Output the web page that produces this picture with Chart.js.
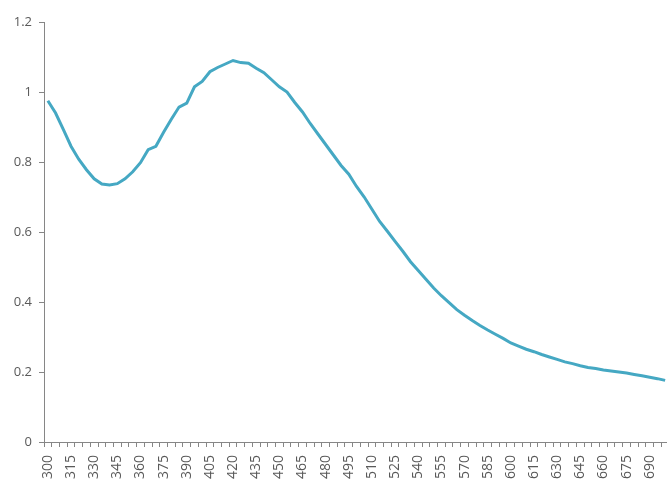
<!DOCTYPE html>
<html>
<head>
<meta charset="utf-8">
<title>Absorption spectrum</title>
<script src="https://cdn.jsdelivr.net/npm/chart.js@4/dist/chart.umd.min.js"></script>
<style>
  html, body { margin: 0; padding: 0; overflow: hidden; background: #ffffff; }
  #wrap { width: 669px; height: 480px; position: relative; }
</style>
</head>
<body>
<div id="wrap"><canvas id="chart"></canvas></div>
<script>
// Wavelength (nm), one category every 5 nm
const wavelengths = [
  300, 305, 310, 315, 320, 325, 330, 335, 340, 345,
  350, 355, 360, 365, 370, 375, 380, 385, 390, 395,
  400, 405, 410, 415, 420, 425, 430, 435, 440, 445,
  450, 455, 460, 465, 470, 475, 480, 485, 490, 495,
  500, 505, 510, 515, 520, 525, 530, 535, 540, 545,
  550, 555, 560, 565, 570, 575, 580, 585, 590, 595,
  600, 605, 610, 615, 620, 625, 630, 635, 640, 645,
  650, 655, 660, 665, 670, 675, 680, 685, 690, 695,
  700
];

// Measured absorbance at each wavelength
const absorbance = [
  0.975, 0.940, 0.893, 0.845, 0.808, 0.778, 0.752, 0.737, 0.734, 0.738,
  0.752, 0.772, 0.798, 0.835, 0.845, 0.885, 0.922, 0.957, 0.968, 1.015,
  1.030, 1.058, 1.070, 1.080, 1.090, 1.084, 1.082, 1.068, 1.055, 1.035,
  1.015, 1.000, 0.970, 0.943, 0.910, 0.880, 0.850, 0.820, 0.790, 0.765,
  0.730, 0.700, 0.665, 0.630, 0.602, 0.573, 0.545, 0.515, 0.490, 0.465,
  0.440, 0.418, 0.398, 0.378, 0.362, 0.347, 0.333, 0.320, 0.308, 0.296,
  0.283, 0.274, 0.265, 0.258, 0.250, 0.243, 0.236, 0.229, 0.224, 0.218,
  0.213, 0.210, 0.206, 0.203, 0.200, 0.197, 0.193, 0.189, 0.185, 0.181,
  0.176
];

// Every third wavelength gets a printed label
const labelEvery = 3;

// Value axis range
const yMin = 0;
const yMax = 1.2;
const yStep = 0.2;

const axisGrey = '#868686';
const textGrey = '#595959';
const lineColour = '#45a8c3';

new Chart(document.getElementById('chart'), {
  type: 'line',
  data: {
    labels: wavelengths,
    datasets: [{
      data: absorbance,
      borderColor: lineColour,
      borderWidth: 3,
      pointRadius: 0,
      tension: 0,
      fill: false
    }]
  },
  options: {
    responsive: true,
    maintainAspectRatio: false,
    animation: false,
    devicePixelRatio: 1,
    layout: { padding: { top: 22, left: 0, right: 0, bottom: 0 } },
    plugins: {
      legend: { display: false },
      tooltip: { enabled: false }
    },
    scales: {
      x: {
        type: 'category',
        offset: true,
        grid: {
          display: true,
          drawOnChartArea: false,
          drawTicks: true,
          tickLength: 5,
          color: axisGrey,
          offset: true
        },
        border: { display: true, color: axisGrey, width: 1 },
        ticks: {
          autoSkip: false,
          minRotation: 90,
          maxRotation: 90,
          padding: 8,
          color: textGrey,
          font: { family: '"Open Sans", sans-serif', size: 14 },
          callback: function (value, index) {
            return index % labelEvery === 0 ? String(wavelengths[index]) : '';
          }
        },
        afterFit: function (axis) {
          axis.height = 38;
          axis.paddingLeft = 0;
          axis.paddingRight = 0;
        }
      },
      y: {
        min: yMin,
        max: yMax,
        grid: {
          display: true,
          drawOnChartArea: false,
          drawTicks: true,
          tickLength: 5,
          color: axisGrey
        },
        border: { display: true, color: axisGrey, width: 1 },
        ticks: {
          stepSize: yStep,
          padding: 7,
          color: textGrey,
          font: { family: '"Open Sans", sans-serif', size: 13 },
          callback: function (value) {
            return String(Math.round(value * 10) / 10);
          }
        },
        afterFit: function (axis) {
          axis.width = 44;
          axis.paddingTop = 0;
          axis.paddingBottom = 0;
        }
      }
    }
  }
});
</script>
</body>
</html>
